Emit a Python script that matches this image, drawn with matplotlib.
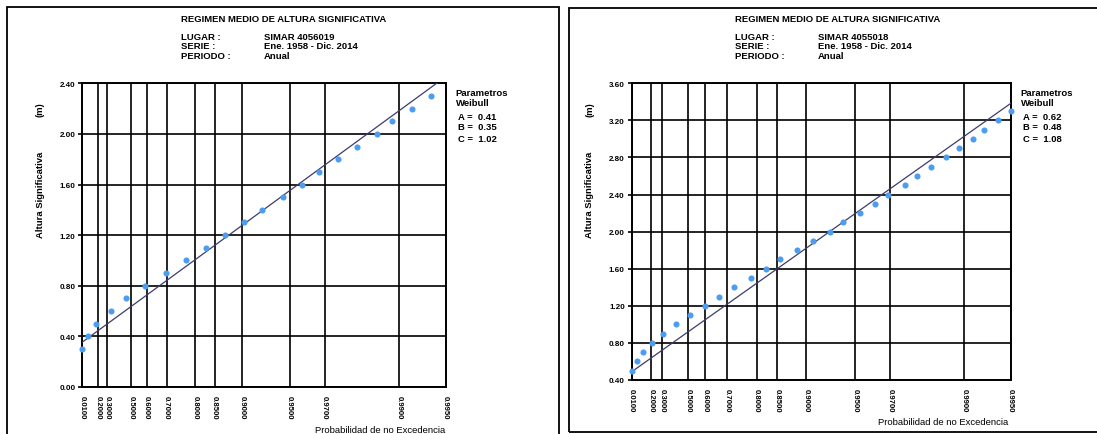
import numpy as np
import matplotlib
matplotlib.use("Agg")
import matplotlib.pyplot as plt
from matplotlib.patches import Rectangle

plt.rcParams['font.family'] = ['Liberation Sans', 'DejaVu Sans']
plt.rcParams['font.weight'] = 'bold'

# ---------------- data ----------------
title = "REGIMEN MEDIO DE ALTURA SIGNIFICATIVA"
prob_ticks = [0.01, 0.2, 0.3, 0.5, 0.6, 0.7, 0.8, 0.85, 0.9, 0.95, 0.97, 0.99, 0.995]
prob_labels = ["0.0100", "0.2000", "0.3000", "0.5000", "0.6000", "0.7000", "0.8000",
               "0.8500", "0.9000", "0.9500", "0.9700", "0.9900", "0.9950"]

# Left panel: SIMAR 4056019
left_lugar = "SIMAR 4056019"
left_A, left_B, left_C = 0.41, 0.35, 1.02
left_hs = [0.3, 0.4, 0.5, 0.6, 0.7, 0.8, 0.9, 1.0, 1.1, 1.2, 1.3, 1.4, 1.5, 1.6,
           1.7, 1.8, 1.9, 2.0, 2.1, 2.2, 2.3]
left_prob = [0.0105, 0.087, 0.183, 0.335, 0.462, 0.588, 0.698, 0.774, 0.830, 0.872,
             0.902, 0.9246, 0.9448, 0.9584, 0.9676, 0.9754, 0.9814, 0.9861, 0.9890,
             0.99177, 0.99376]
left_yticks = [0.0, 0.4, 0.8, 1.2, 1.6, 2.0, 2.4]

# Right panel: SIMAR 4055018
right_lugar = "SIMAR 4055018"
right_A, right_B, right_C = 0.62, 0.48, 1.08
right_hs = [0.5, 0.6, 0.7, 0.8, 0.9, 1.0, 1.1, 1.2, 1.3, 1.4, 1.5, 1.6, 1.7, 1.8,
            1.9, 2.0, 2.1, 2.2, 2.3, 2.4, 2.5, 2.6, 2.7, 2.8, 2.9, 3.0, 3.1, 3.2, 3.3]
right_prob = [0.0126, 0.0627, 0.1237, 0.208, 0.313, 0.4116, 0.510, 0.5976, 0.6645,
              0.727, 0.7836, 0.8248, 0.8558, 0.8854, 0.9086, 0.9286, 0.9407, 0.9536,
              0.9626, 0.9691, 0.9758, 0.9797, 0.9835, 0.9868, 0.98909, 0.99123,
              0.99248, 0.99391, 0.9950]
right_yticks = [0.4, 0.8, 1.2, 1.6, 2.0, 2.4, 2.8, 3.2, 3.6]

W, H = 1097, 435
fig = plt.figure(figsize=(W / 100, H / 100), dpi=100)

def fx(px):
    return px / W

def fy(py):
    return 1 - py / H

POINT_COLOR = "#4c9cef"
LINE_COLOR = "#3c3c6e"
FS = 6.8


def make_scale(C):
    def fwd(p):
        p = np.clip(np.asarray(p, dtype=float), 1e-9, 1 - 1e-9)
        return (-np.log(1 - p)) ** (1.0 / C)

    def inv(u):
        u = np.clip(np.asarray(u, dtype=float), 0, None)
        return 1 - np.exp(-u ** C)
    return fwd, inv


def panel(x0, x1, ytop, ybot, A, B, C, hs, prob, yticks, lugar, ox):
    ax = fig.add_axes([fx(x0), fy(ybot), fx(x1 - x0), (ybot - ytop) / H])
    fwd, inv = make_scale(C)
    ax.set_xscale('function', functions=(fwd, inv))
    ax.set_xlim(prob_ticks[0], prob_ticks[-1])
    ax.set_ylim(yticks[0], yticks[-1])
    ax.set_xticks(prob_ticks)
    ax.set_xticklabels(prob_labels, rotation=-90, fontsize=5.6, fontweight='bold')
    ax.set_yticks(yticks)
    ax.set_yticklabels(["%.2f" % v for v in yticks], fontsize=5.8, fontweight='bold')
    ax.xaxis.set_minor_locator(matplotlib.ticker.NullLocator())
    ax.tick_params(axis='x', length=0, pad=6)
    ax.tick_params(axis='y', length=3, width=1.2, pad=2)
    ax.grid(True, color='black', linewidth=1.2)
    for s in ax.spines.values():
        s.set_linewidth(1.4)
        s.set_color('black')
    # fitted Weibull line
    pp = inv(np.linspace(fwd(prob_ticks[0]), fwd(prob_ticks[-1]), 200))
    ax.plot(pp, B + A * fwd(pp), color=LINE_COLOR, linewidth=0.9, zorder=3)
    ax.plot(prob, hs, 'o', color=POINT_COLOR, markersize=4.4, markeredgewidth=0,
            zorder=4, clip_on=False)

    # texts
    tx = ox
    fig.text(fx(tx), fy(20), title, fontsize=FS, ha='left', va='center')
    fig.text(fx(tx), fy(37), "LUGAR :", fontsize=FS, ha='left', va='center')
    fig.text(fx(tx), fy(46.5), "SERIE :", fontsize=FS, ha='left', va='center')
    fig.text(fx(tx), fy(56.5), "PERIODO :", fontsize=FS, ha='left', va='center')
    fig.text(fx(tx + 83), fy(37), lugar, fontsize=FS, ha='left', va='center')
    fig.text(fx(tx + 83), fy(46.5), "Ene. 1958 - Dic. 2014", fontsize=FS, ha='left', va='center')
    fig.text(fx(tx + 83), fy(56.5), "Anual", fontsize=FS, ha='left', va='center')

    px = x1 + 10
    fig.text(fx(px), fy(93), "Parametros", fontsize=FS, ha='left', va='center')
    fig.text(fx(px), fy(104), "Weibull", fontsize=FS, ha='left', va='center')
    fig.text(fx(px + 2), fy(117), "A =  %.2f" % A, fontsize=FS, ha='left', va='center')
    fig.text(fx(px + 2), fy(128), "B =  %.2f" % B, fontsize=FS, ha='left', va='center')
    fig.text(fx(px + 2), fy(140), "C =  %.2f" % C, fontsize=FS, ha='left', va='center')

    fig.text(fx(x0 - 42), fy(195), "Altura Significativa", rotation=90, fontsize=FS,
             ha='center', va='center')
    fig.text(fx(x0 - 42), fy(110), "(m)", rotation=90, fontsize=FS,
             ha='center', va='center')
    return ax


# panel frames
fig.add_artist(Rectangle((fx(7), fy(445)), fx(558.7 - 7), (445 - 8) / H,
                         transform=fig.transFigure, fill=False, edgecolor='black',
                         linewidth=1.3))
fig.add_artist(Rectangle((fx(568.7), fy(432.7)), fx(1110 - 568.7), (432.7 - 9) / H,
                         transform=fig.transFigure, fill=False, edgecolor='black',
                         linewidth=1.3))

panel(82.3, 445.7, 84.3, 388.0, left_A, left_B, left_C, left_hs, left_prob,
      left_yticks, left_lugar, 181)
panel(631.7, 1010.7, 84.3, 381.0, right_A, right_B, right_C, right_hs, right_prob,
      right_yticks, right_lugar, 735)

fig.text(fx(445), fy(431), "Probabilidad de no Excedencia", fontsize=FS,
         fontweight='normal', ha='right', va='center')
fig.text(fx(1008), fy(423), "Probabilidad de no Excedencia", fontsize=FS,
         fontweight='normal', ha='right', va='center')

fig.savefig("out.png", dpi=100)
